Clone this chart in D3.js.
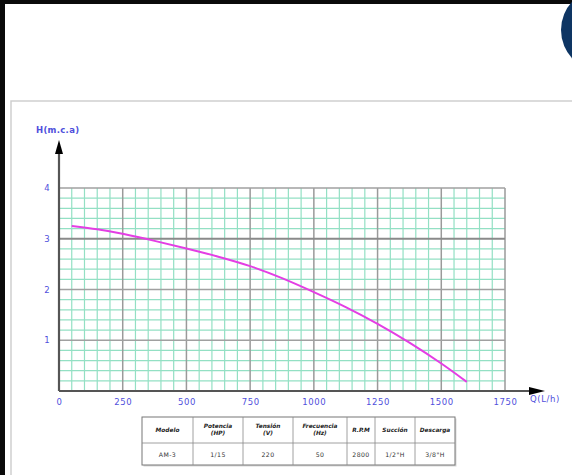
<!DOCTYPE html>
<html>
<head>
<meta charset="utf-8">
<script src="https://cdn.jsdelivr.net/npm/d3@7"></script>
<style>
  html, body { margin: 0; padding: 0; background: #0a0a0a; }
  svg { display: block; }
  text { font-family: "DejaVu Sans", sans-serif; }
</style>
</head>
<body>
<svg id="chart" width="572" height="475"></svg>
<script>
// Pump curve: flow Q (L/h) vs head H (m.c.a)
const flowQ = [50, 150, 250, 375, 500, 625, 750, 875, 1000, 1125, 1250, 1375, 1500, 1600];
const headH = [3.25, 3.19, 3.10, 2.96, 2.81, 2.65, 2.47, 2.23, 1.95, 1.66, 1.33, 0.96, 0.55, 0.18];

const xTicks = [0, 250, 500, 750, 1000, 1250, 1500, 1750];
const yTicks = [1, 2, 3, 4];

// Specification table
const tableHeader = [["Modelo"], ["Potencia", "(HP)"], ["Tensión", "(V)"], ["Frecuencia", "(Hz)"], ["R.P.M"], ["Succión"], ["Descarga"]];
const tableRow = ["AM-3", "1/15", "220", "50", "2800", "1/2\"H", "3/8\"H"];

const svg = d3.select("#chart");

// page backdrop
svg.append("rect").attr("x", 5).attr("y", 4).attr("width", 567).attr("height", 471).attr("fill", "#fff");
svg.append("circle").attr("cx", 603).attr("cy", 30).attr("r", 42).attr("fill", "#0e3563");
svg.append("path").attr("d", "M11,475 V101 H572").attr("fill", "none").attr("stroke", "#cfcfcf").attr("stroke-width", 1.5);

const x = d3.scaleLinear().domain([0, 1750]).range([59, 505]);
const y = d3.scaleLinear().domain([0, 4]).range([391, 188]);

const g = svg.append("g");

// minor grid
const minorX = d3.range(0, 1751, 50).filter(v => v % 250 !== 0);
const minorY = d3.range(0, 4.001, 0.2).map(v => +v.toFixed(1)).filter(v => Math.abs(v - Math.round(v)) > 1e-6);
g.selectAll(".mx").data(minorX).join("line")
  .attr("x1", d => x(d)).attr("x2", d => x(d)).attr("y1", y(0)).attr("y2", y(4))
  .attr("stroke", "#93e0c4").attr("stroke-width", 1.2);
g.selectAll(".my").data(minorY).join("line")
  .attr("x1", x(0)).attr("x2", x(1750)).attr("y1", d => y(d)).attr("y2", d => y(d))
  .attr("stroke", "#93e0c4").attr("stroke-width", 1.2);

// major grid
g.selectAll(".Mx").data(xTicks.slice(1)).join("line")
  .attr("x1", d => x(d)).attr("x2", d => x(d)).attr("y1", y(0)).attr("y2", y(4))
  .attr("stroke", "#9a9a9a").attr("stroke-width", 1.5);
g.selectAll(".My").data(yTicks).join("line")
  .attr("x1", x(0)).attr("x2", x(1750)).attr("y1", d => y(d)).attr("y2", d => y(d))
  .attr("stroke", d => d === 3 ? "#8a8a8a" : "#a0a0a0").attr("stroke-width", d => d === 3 ? 2.2 : 1.5);

// curve
const pts = flowQ.map((q, i) => [q, headH[i]]);
g.append("path").datum(pts)
  .attr("d", d3.line().x(d => x(d[0])).y(d => y(d[1])).curve(d3.curveBasis))
  .attr("fill", "none").attr("stroke", "#e43ee4").attr("stroke-width", 2);

// axes lines with arrowheads
g.append("line").attr("x1", x(0)).attr("x2", 529).attr("y1", y(0)).attr("y2", y(0))
  .attr("stroke", "#555").attr("stroke-width", 2.2);
g.append("path").attr("d", `M529,${y(0) - 4} L545,${y(0)} L529,${y(0) + 4} Z`).attr("fill", "#000");
g.append("line").attr("x1", x(0)).attr("x2", x(0)).attr("y1", y(0)).attr("y2", 153)
  .attr("stroke", "#555").attr("stroke-width", 2.2);
g.append("path").attr("d", `M${x(0) - 4},154 L${x(0)},140 L${x(0) + 4},154 Z`).attr("fill", "#000");

// tick labels
const labelColor = "#4f4fdc";
const xAxis = d3.axisBottom(x).tickValues(xTicks).tickFormat(d3.format("d")).tickSize(0).tickPadding(8);
const xa = g.append("g").attr("transform", `translate(0,${y(0)})`).call(xAxis);
xa.select(".domain").remove();
xa.selectAll("text").attr("fill", labelColor).attr("font-size", 8.5).attr("letter-spacing", 0.6).attr("font-family", "DejaVu Sans");

const yAxis = d3.axisLeft(y).tickValues(yTicks).tickFormat(d3.format("d")).tickSize(0).tickPadding(10);
const ya = g.append("g").attr("transform", `translate(${x(0)},0)`).call(yAxis);
ya.select(".domain").remove();
ya.selectAll("text").attr("fill", labelColor).attr("font-size", 8.5).attr("text-anchor", "middle").attr("dx", -2).attr("font-family", "DejaVu Sans");

g.append("text").attr("x", 36).attr("y", 133).text("H(m.c.a)")
  .attr("fill", labelColor).attr("font-size", 8.5).attr("font-weight", "bold").attr("letter-spacing", 0.3);
g.append("text").attr("x", 530).attr("y", 402).text("Q(L/h)")
  .attr("fill", labelColor).attr("font-size", 8.5).attr("letter-spacing", 0.6);

// spec table
const colEdges = [142, 193, 243, 293, 347, 375, 415, 455];
const rowEdges = [417, 443, 465];
const t = svg.append("g");
t.append("rect").attr("x", colEdges[0] + 1.5).attr("y", rowEdges[0] + 1.5)
  .attr("width", colEdges[7] - colEdges[0]).attr("height", rowEdges[2] - rowEdges[0]).attr("fill", "#d8d8d8");
t.append("rect").attr("x", colEdges[0]).attr("y", rowEdges[0])
  .attr("width", colEdges[7] - colEdges[0]).attr("height", rowEdges[2] - rowEdges[0])
  .attr("fill", "#fff").attr("stroke", "#777").attr("stroke-width", 1);
t.append("line").attr("x1", colEdges[0]).attr("x2", colEdges[7]).attr("y1", rowEdges[1]).attr("y2", rowEdges[1])
  .attr("stroke", "#888").attr("stroke-width", 0.8);
t.selectAll(".cd").data(colEdges.slice(1, -1)).join("line")
  .attr("x1", d => d).attr("x2", d => d).attr("y1", rowEdges[0]).attr("y2", rowEdges[2])
  .attr("stroke", "#888").attr("stroke-width", 0.8);

const headCells = t.selectAll(".hc").data(tableHeader).join("text")
  .attr("x", (d, i) => (colEdges[i] + colEdges[i + 1]) / 2)
  .attr("y", d => d.length > 1 ? 428 : 432)
  .attr("text-anchor", "middle").attr("font-size", 5.8).attr("font-weight", "bold").attr("font-style", "italic")
  .attr("fill", "#222");
headCells.selectAll("tspan").data(d => d).join("tspan")
  .attr("x", function () { return d3.select(this.parentNode).attr("x"); })
  .attr("dy", (d, i) => i === 0 ? 0 : 7)
  .text(d => d);

t.selectAll(".vc").data(tableRow).join("text")
  .attr("x", (d, i) => (colEdges[i] + colEdges[i + 1]) / 2)
  .attr("y", 457).attr("text-anchor", "middle").attr("font-size", 6.2).attr("fill", "#333").attr("letter-spacing", 0.4)
  .text(d => d);
</script>
</body>
</html>
